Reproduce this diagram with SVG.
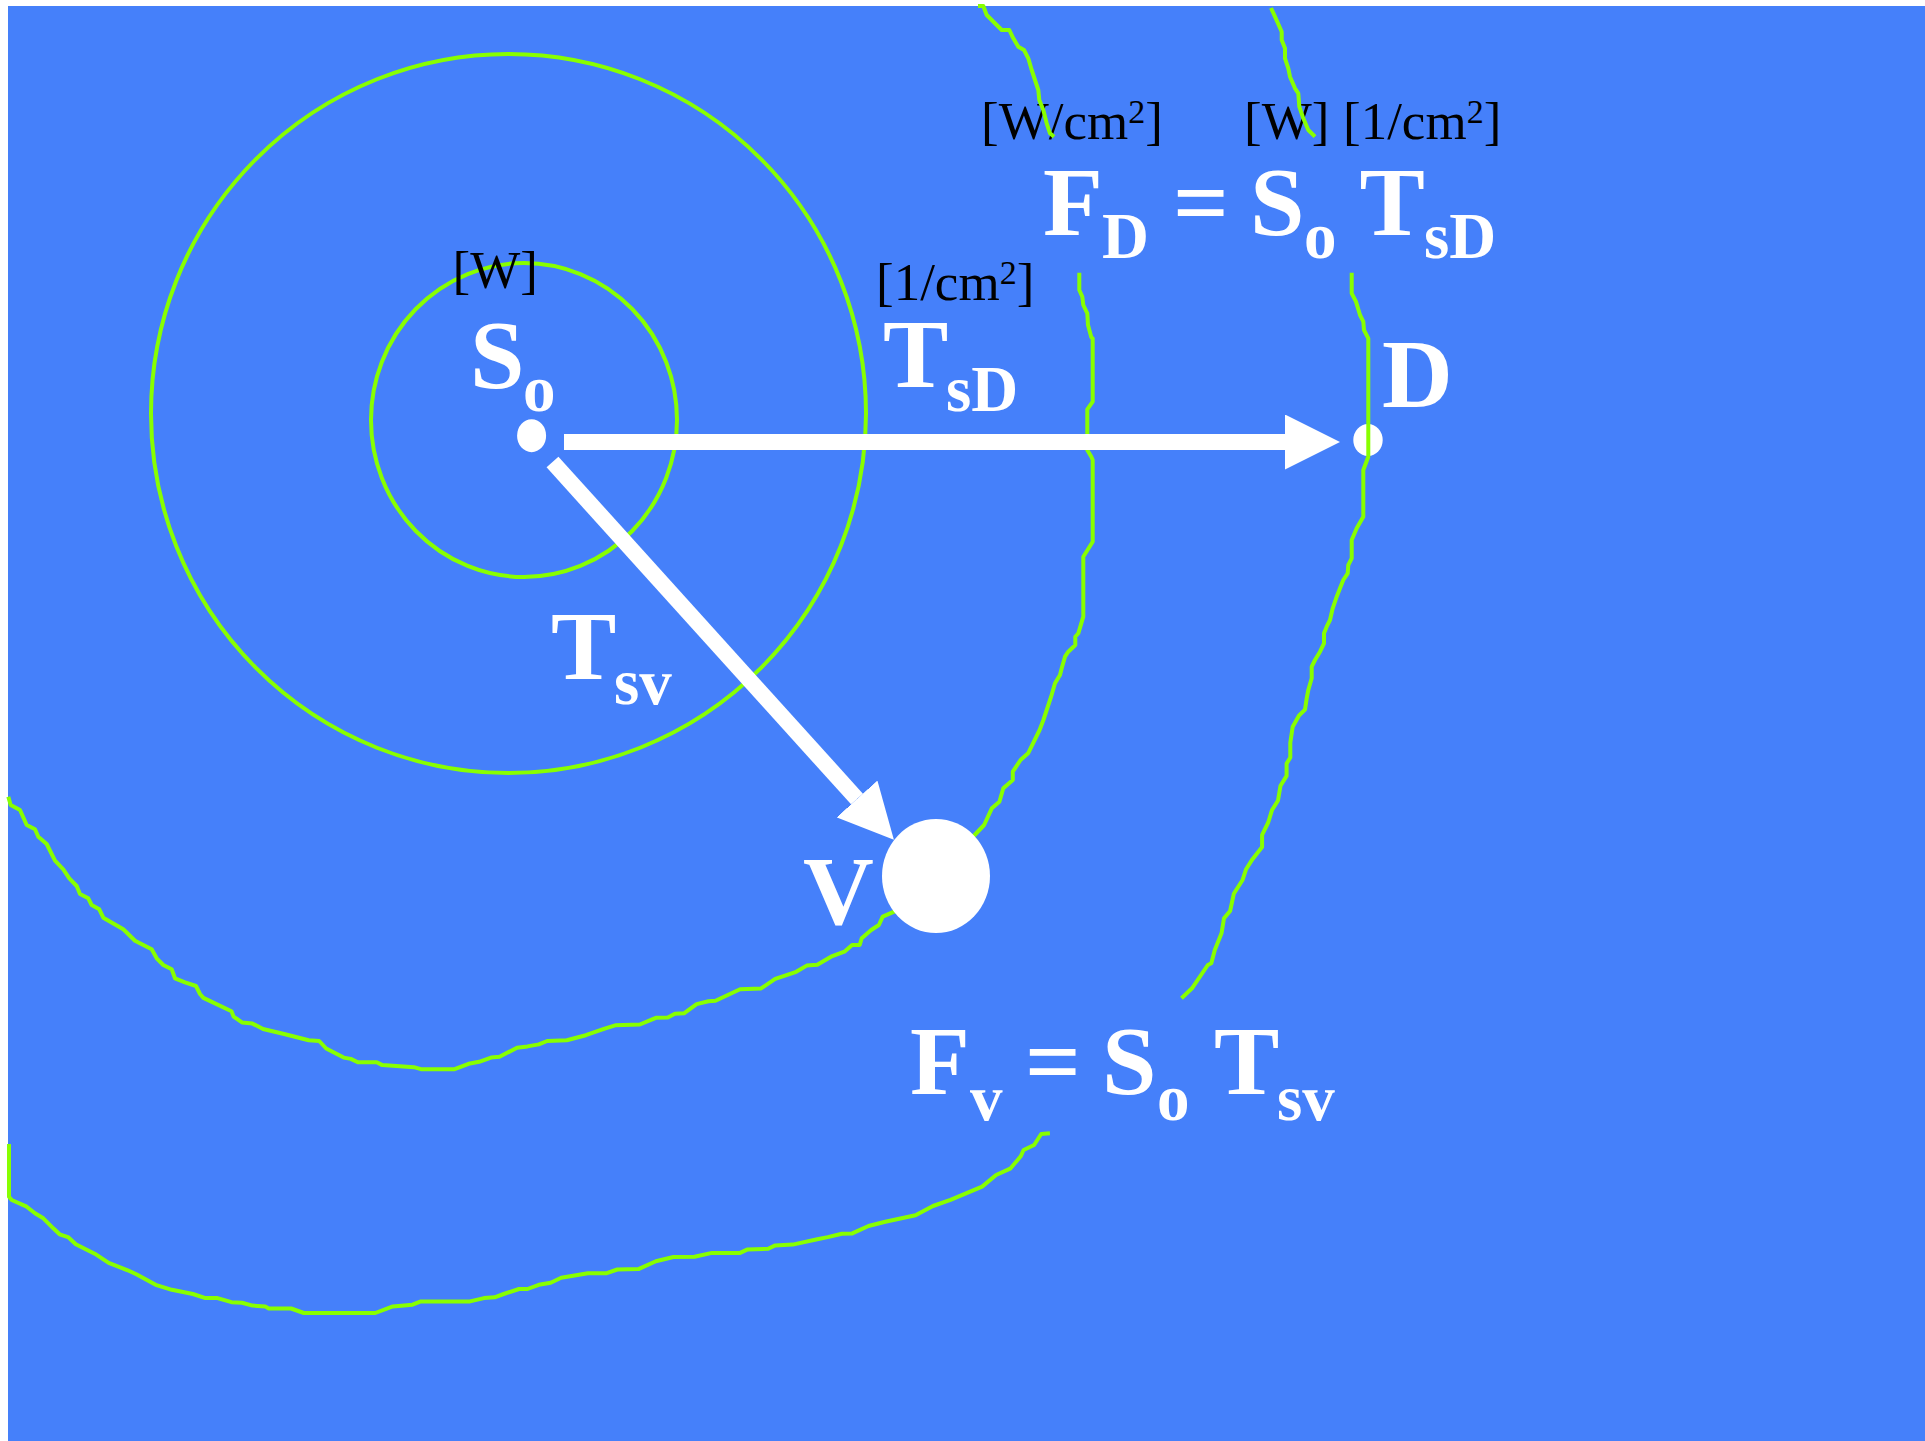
<svg xmlns="http://www.w3.org/2000/svg" width="1925" height="1441" viewBox="0 0 1925 1441">
<style>
.bg{fill:#4580FA}
.ct{fill:none;stroke:#88FF00;stroke-width:4;stroke-linejoin:round}
.b{font-family:"Liberation Serif","Times New Roman",serif;font-weight:bold;fill:#fff;font-size:98px}
.s{font-size:65px}
.u{font-family:"Liberation Serif","Times New Roman",serif;fill:#000;font-size:53px}
.sup{font-size:34px}
.dot{fill:#fff}
.arr{stroke:#fff;stroke-width:16;fill:none;marker-end:url(#head)}
</style>
<defs>
<marker id="head" markerUnits="userSpaceOnUse" viewBox="0 0 55 55" markerWidth="55" markerHeight="55" refX="0" refY="27.5" orient="auto">
<path d="M0,0 L55,27.5 L0,55 z" fill="#fff"/>
</marker>
</defs>
<rect x="0" y="0" width="1925" height="1441" fill="#fff"/>
<rect class="bg" x="8" y="6" width="1917" height="1435"/>

<g id="node-D">
<ellipse class="dot" cx="1368" cy="440" rx="14.7" ry="16"/>
<text class="b" x="1382" y="407">D</text>
</g>

<g id="eq-FD">
<text class="u" x="981" y="139">[W/cm<tspan class="sup" dy="-16">2</tspan><tspan dy="16">]</tspan></text>
<text class="u" x="1244" y="139">[W]</text>
<text class="u" x="1343" y="139">[1/cm<tspan class="sup" dy="-16">2</tspan><tspan dy="16">]</tspan></text>
<text class="b" x="1043" y="235">F</text>
<text class="b s" x="1102" y="258">D</text>
<text class="b" x="1173" y="235">=</text>
<text class="b" x="1250" y="235">S</text>
<text class="b s" x="1304" y="258">o</text>
<text class="b" x="1359.5" y="235">T</text>
<text class="b s" x="1424" y="258">sD</text>
</g>

<g id="eq-Fv">
<text class="b" x="910" y="1094">F</text>
<text class="b s" x="970" y="1120">v</text>
<text class="b" x="1025" y="1094">=</text>
<text class="b" x="1102" y="1094">S</text>
<text class="b s" x="1157" y="1120">o</text>
<text class="b" x="1214" y="1094">T</text>
<text class="b s" x="1277" y="1120">sv</text>
</g>

<g id="contours">
<ellipse class="ct" cx="524" cy="420" rx="153" ry="157"/>
<ellipse class="ct" cx="508.5" cy="413.5" rx="357.5" ry="359.5"/>
<polyline class="ct" points="978,6 983.3,6 986.7,15 991.7,20 996.7,25 1001.7,30 1009.3,30 1013.3,38.3 1018.3,46.7 1024,50 1028.3,58.3 1031.7,70 1035,80 1038.3,90 1039.3,100 1043.3,110 1046.7,123.3 1050,133.3 1054,136.7"/>
<polyline class="ct" points="1079.3,272.7 1079.3,290 1082.3,296.7 1083.3,305 1087.3,313.3 1088,325 1091.3,337.3 1092.7,338.3 1092.7,401.7 1087.3,409.3 1087.3,450 1091.3,456.7 1092.7,460 1092.7,541.7 1083.3,556.7 1083.3,616.7 1078.3,633.3 1075.3,636.7 1075.3,645 1068.3,651.7 1065,656.7 1061.7,668.3 1060,675 1055,683.3 1051.1,696.7 1043.4,720 1039.6,730 1028.1,753.3 1020.5,760 1012.8,771.7 1012.8,780 1003.3,788.3 999.4,801.7 991.8,808.3 984.1,825 974.6,835 894.2,911.7 882.7,916.7 878.9,925 871.2,930 861.7,938.3 859.7,945 852.1,945 844.4,951.7 831,956.7 817.3,964.8 806.7,965.6 796.2,971.8 775.2,978.9 761.1,988.4 740.1,989.2 715.5,1000.8 708.5,1001.2 696.6,1004.1 684,1013.3 674.9,1013.7 667.8,1017.4 655.9,1017.8 639.8,1024.5 615.2,1025.3 604.7,1028.6 585.8,1035.2 566.8,1040.2 547.2,1041 538.8,1044.4 527.5,1046.4 517,1047.7 499.5,1056.8 491.1,1057.6 479.1,1061.8 468.6,1063.8 454.6,1069.2 420.9,1069.2 413.9,1067.2 382.3,1065.1 376.7,1062.2 357.8,1062.2 350.8,1058.9 343.7,1057.6 326.2,1048.5 319.2,1041 308.7,1040.2 284.1,1034 263.1,1029 252.5,1023.6 242,1022.4 233.6,1016.6 231.5,1011.2 203.4,997.9 200,994 196,986 185,982.3 175,978.3 171.7,969.3 163.3,965 156.7,958.3 151.7,949.3 135,940.7 123.3,929.3 103.3,917.7 99.3,909.3 91.7,905 88.3,898.3 80,894 76.7,886 69.3,878.3 63.3,869.3 55,860.7 46.7,844 38.3,836.7 35,829.3 26.7,825 20,810 10.7,805 8.3,796.7"/>
<polyline class="ct" points="1271,8 1275,16.7 1281.7,31.7 1281.7,40 1285,48.3 1285,58.3 1288.3,68.3 1290,76.7 1295,88.3 1298.3,93.3 1299.3,106.7 1303.3,118.3 1308.3,130 1315,136.7"/>
<polyline class="ct" points="1351.7,272.7 1351.7,293.3 1356,301.7 1360,315 1363.3,321.7 1364,330 1368.3,338.3 1368.3,456.7 1363.3,470 1363.3,516.7 1356.7,528.3 1351.7,540 1351.7,558.3 1348.3,565 1347.7,573.3 1343.3,580 1340,588.3 1336.7,596.7 1332.7,608.3 1330,620 1326.7,626.7 1324,633.3 1324,643.3 1320,651.7 1315,660 1311.7,666.7 1311.7,678.3 1308.3,690 1306.7,698.3 1305,709.6 1298.9,715.7 1292.7,726.8 1290.3,742.8 1290.3,757.5 1286.6,763.6 1286.6,775.9 1280.5,785.7 1278,800.5 1271.9,810.3 1268.2,822.5 1262.1,834.8 1262.1,847.1 1252.3,859.4 1246.1,869.2 1242.4,880.3 1233.8,893.8 1230.1,911 1224,918.3 1221.6,933 1214.8,950 1211.3,963.3 1207.8,965 1192,988.3 1181.5,998.3"/>
<polyline class="ct" points="1049.9,1133.3 1041.2,1134 1034.1,1145 1023.6,1150 1020.7,1156.3 1010.2,1168.7 996.1,1175 982.1,1186.6 950.5,1199.8 933,1206 915.5,1215.2 885.3,1221.8 868.5,1226 852.3,1233.4 841.8,1233.8 827.8,1237.1 817.3,1239.2 792.7,1244.6 775.2,1245.4 768.2,1248.8 747.1,1249.6 740.1,1252.9 712,1252.9 694.5,1256.7 673.4,1257 655.9,1261.2 638.4,1269.1 617.3,1269.5 606.8,1273.2 587.9,1273.2 561.2,1277.8 550.7,1282.7 538.8,1284.8 527.5,1289 519.1,1289 503.7,1294 494.6,1297.3 484,1298.1 470,1301.4 420.9,1301.4 412.5,1304.7 392.8,1306.4 375.3,1313 303.8,1313 291.1,1308.5 268.7,1308.5 265.2,1306.4 252.5,1305.6 242,1302.7 231.5,1302.2 217.5,1298.1 205.5,1298.1 192.9,1294 171.9,1289.8 155.7,1284.8 136.8,1274.5 127.7,1270.3 108.7,1262.9 94.7,1253.7 75.8,1244.2 68,1237.1 59.6,1234.3 53.3,1228.3 43.3,1218.3 35,1213.3 26.7,1206.7 11.7,1200 9,1196.7 9,1144"/>
</g>

<g id="connectors">
<line class="arr" x1="564" y1="442" x2="1285" y2="442"/>
<line class="arr" x1="552.5" y1="462" x2="857" y2="799"/>
</g>

<g id="node-So">
<ellipse class="dot" cx="531.6" cy="435.7" rx="14.5" ry="16.5"/>
<text class="u" x="452.5" y="288">[W]</text>
<text class="b" x="470" y="388">S</text>
<text class="b s" x="523" y="411">o</text>
</g>

<g id="label-TsD">
<text class="u" x="876" y="300">[1/cm<tspan class="sup" dy="-16">2</tspan><tspan dy="16">]</tspan></text>
<text class="b" x="883" y="387">T</text>
<text class="b s" x="946" y="411">sD</text>
</g>

<g id="label-Tsv">
<text class="b" x="551" y="679">T</text>
<text class="b s" x="614" y="704">sv</text>
</g>

<g id="node-V">
<ellipse class="dot" cx="936" cy="876" rx="54" ry="57"/>
<text class="b" x="803" y="924">V</text>
</g>
</svg>
